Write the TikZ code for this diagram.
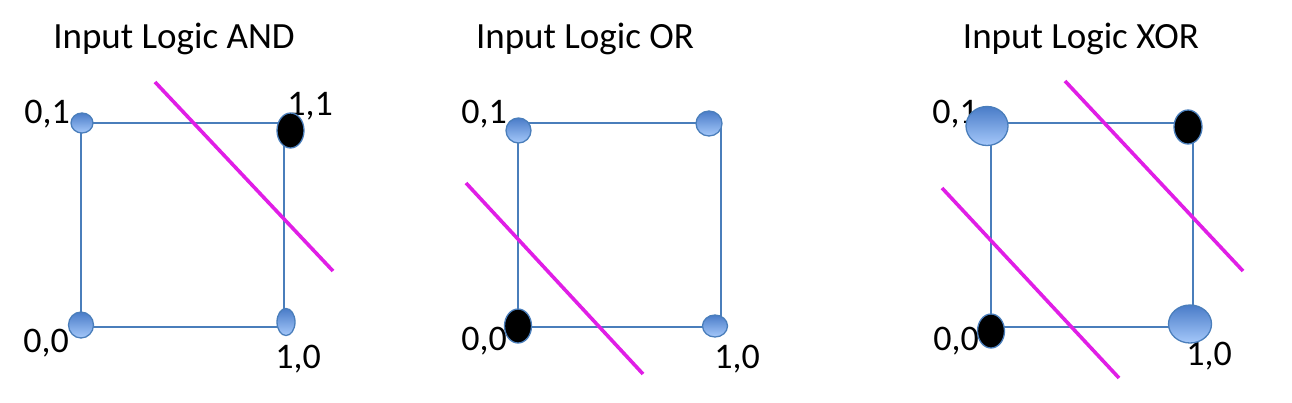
\documentclass[tikz,border=0pt]{standalone}
\usepackage{fontspec}
\setmainfont{Carlito}
\usepackage{tikz}
\usetikzlibrary{shapes.geometric}
\definecolor{edgeblue}{HTML}{4A7EBB}
\definecolor{dotdark}{HTML}{4A7CC8}
\definecolor{dotlight}{HTML}{A5C8FA}
\definecolor{cutpink}{HTML}{E01EE6}

\begin{document}
\begin{tikzpicture}[x=1pt,y=-1pt,
    edge/.style={edgeblue, line width=2.2pt},
    cut/.style={cutpink, line width=3.6pt},
    dot/.style={ellipse, draw=edgeblue, line width=1.3pt, top color=dotdark, bottom color=dotlight, inner sep=0pt},
    hit/.style={ellipse, draw=edgeblue, line width=1.3pt, fill=black, inner sep=0pt},
    title/.style={font=\fontsize{37}{42}\selectfont, anchor=base},
    lbl/.style={font=\fontsize{36}{40}\selectfont, anchor=base}]
    \useasboundingbox (0,0) rectangle (1292,402);

    % AND
    \node[title] (andtitle) at (174,48) {Input Logic AND};
    \coordinate (anda) at (81,123);
    \coordinate (andb) at (284,123);
    \coordinate (andc) at (284,327);
    \coordinate (andd) at (81,327);
    \draw[edge] (anda) -- (andb) -- (andc) -- (andd) -- cycle;
    \draw[cut] (155,82) -- (333,271);
    \node[lbl] (andl01) at (47,123) {0,1};
    \node[lbl] (andl11) at (310,115) {1,1};
    \node[lbl] (andl00) at (46,352) {0,0};
    \node[lbl] (andl10) at (298,368) {1,0};
    \node[dot, minimum width=22pt, minimum height=20pt] (and01) at (82,123) {};
    \node[hit, minimum width=27pt, minimum height=35pt] (and11) at (290.5,130.5) {};
    \node[dot, minimum width=25pt, minimum height=26pt] (and00) at (81,325) {};
    \node[dot, minimum width=18pt, minimum height=27pt] (and10) at (286,322) {};

    % OR
    \node[title] (ortitle) at (585,48) {Input Logic OR};
    \coordinate (ora) at (518,123);
    \coordinate (orb) at (721,123);
    \coordinate (orc) at (721,327);
    \coordinate (ord) at (518,327);
    \draw[edge] (ora) -- (orb) -- (orc) -- (ord) -- cycle;
    \draw[cut] (466,183) -- (643,374);
    \node[lbl] (orl01) at (484,123) {0,1};
    \node[lbl] (orl00) at (484,350) {0,0};
    \node[lbl] (orl10) at (737,368) {1,0};
    \node[dot, minimum width=25pt, minimum height=25pt] (or01) at (518.5,130.5) {};
    \node[dot, minimum width=26pt, minimum height=25pt] (or11) at (709,123.5) {};
    \node[hit, minimum width=27pt, minimum height=34pt] (or00) at (518,326) {};
    \node[dot, minimum width=25pt, minimum height=22pt] (or10) at (715,326) {};

    % XOR
    \node[title] (xortitle) at (1081,48) {Input Logic XOR};
    \coordinate (xora) at (991,123);
    \coordinate (xorb) at (1193,123);
    \coordinate (xorc) at (1193,327);
    \coordinate (xord) at (991,327);
    \draw[edge] (xora) -- (xorb) -- (xorc) -- (xord) -- cycle;
    \draw[cut] (1065,81) -- (1243,271);
    \draw[cut] (942,188) -- (1119,378);
    \node[lbl] (xorl01) at (955,123) {0,1};
    \node[lbl] (xorl00) at (956,350) {0,0};
    \node[lbl] (xorl10) at (1209,365) {1,0};
    \node[dot, minimum width=42pt, minimum height=39pt] (xor01) at (987,126) {};
    \node[hit, minimum width=28pt, minimum height=34pt] (xor11) at (1188,127) {};
    \node[hit, minimum width=27pt, minimum height=34pt] (xor00) at (991,331) {};
    \node[dot, minimum width=43pt, minimum height=38pt] (xor10) at (1190,324) {};
\end{tikzpicture}
\end{document}
